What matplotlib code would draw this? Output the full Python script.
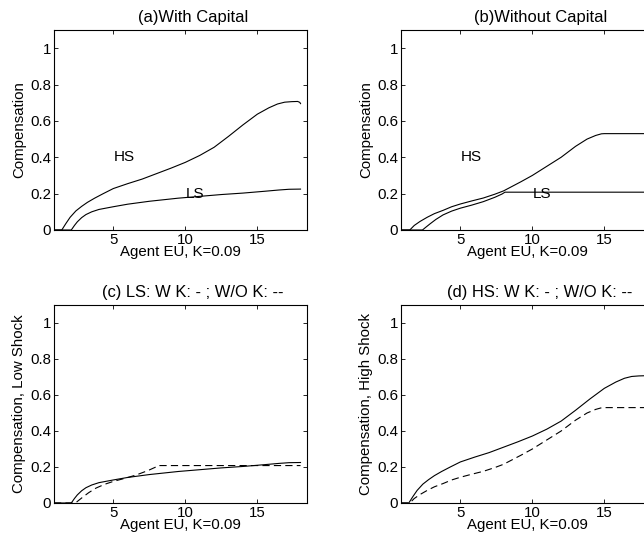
import numpy as np
import matplotlib
matplotlib.use('Agg')
import matplotlib.pyplot as plt

plt.rcParams['font.family'] = ['Liberation Sans', 'DejaVu Sans']

# HS, with capital
hs_k_x = [0.88, 1.42, 1.7, 2.0, 2.4, 2.8, 3.2, 3.7, 4.3, 5.0, 6.0, 7.0, 8.0, 9.0, 10.0,
          11.0, 12.0, 13.0, 14.0, 15.0, 15.8, 16.4, 16.9, 17.4, 17.8, 17.95, 18.0]
hs_k_y = [0, 0, 0.035, 0.07, 0.105, 0.13, 0.152, 0.175, 0.2, 0.228, 0.255, 0.28, 0.31,
          0.34, 0.372, 0.41, 0.455, 0.515, 0.578, 0.637, 0.672, 0.693, 0.703, 0.706,
          0.707, 0.702, 0.695]
# LS, with capital
ls_k_x = [0.88, 2.08, 2.3, 2.5, 2.8, 3.1, 3.5, 4.0, 5.0, 6.0, 7.5, 9.5, 11.0, 12.5,
          14.0, 15.5, 16.5, 17.2, 18.0]
ls_k_y = [0, 0, 0.025, 0.045, 0.068, 0.085, 0.1, 0.113, 0.128, 0.142, 0.158, 0.175,
          0.185, 0.195, 0.203, 0.213, 0.22, 0.224, 0.225]
# HS, without capital
hs_nok_x = [0.88, 1.49, 1.8, 2.2, 2.7, 3.2, 3.8, 4.4, 5.0, 5.8, 6.6, 7.4, 8.0, 8.6,
            9.2, 10.0, 11.0, 12.0, 13.0, 13.8, 14.4, 14.8, 15.0, 18.0]
hs_nok_y = [0, 0, 0.025, 0.047, 0.07, 0.09, 0.108, 0.128, 0.143, 0.16, 0.176, 0.197,
            0.215, 0.24, 0.265, 0.3, 0.35, 0.4, 0.46, 0.5, 0.52, 0.529, 0.53, 0.53]
# LS, without capital
ls_nok_x = [0.88, 2.37, 2.6, 2.9, 3.3, 3.8, 4.4, 5.0, 5.8, 6.6, 7.4, 7.9, 8.1, 18.0]
ls_nok_y = [0, 0, 0.015, 0.034, 0.058, 0.083, 0.104, 0.12, 0.137, 0.156, 0.18, 0.198,
            0.208, 0.208]

titles = ['(a)With Capital', '(b)Without Capital',
          '(c) LS: W K: - ; W/O K: --', '(d) HS: W K: - ; W/O K: --']
ylabels = ['Compensation', 'Compensation',
           'Compensation, Low Shock', 'Compensation, High Shock']
xlabel = 'Agent EU, K=0.09'
yticks = [0, 0.2, 0.4, 0.6, 0.8, 1]
ytick_labels = ['0', '0.2', '0.4', '0.6', '0.8', '1']
xticks = [5, 10, 15]

W, H = 644, 546
fig = plt.figure(figsize=(W / 100, H / 100), dpi=100)

# axes boxes in pixels: left, top, width, height (right column runs off the edge)
boxes = [(54, 30, 253, 200), (401, 30, 253, 200),
         (54, 305, 253, 198), (401, 305, 253, 198)]
axs = []
for (l, t, w, h) in boxes:
    ax = fig.add_axes([l / W, (H - t - h) / H, w / W, h / H])
    axs.append(ax)

lw = 0.8
dash = (0, (6.5, 3.8))

axs[0].plot(hs_k_x, hs_k_y, 'k-', lw=lw)
axs[0].plot(ls_k_x, ls_k_y, 'k-', lw=lw)
axs[1].plot(hs_nok_x, hs_nok_y, 'k-', lw=lw)
axs[1].plot(ls_nok_x, ls_nok_y, 'k-', lw=lw)
axs[2].plot(ls_k_x, ls_k_y, 'k-', lw=lw)
axs[2].plot(ls_nok_x, ls_nok_y, color='k', ls=dash, lw=lw)
axs[3].plot(hs_k_x, hs_k_y, 'k-', lw=lw)
axs[3].plot(hs_nok_x, hs_nok_y, color='k', ls=dash, lw=lw)

for ax in axs[:2]:
    ax.text(5, 0.4, 'HS', fontsize=11, va='center')
    ax.text(10, 0.2, 'LS', fontsize=11, va='center')

for i, ax in enumerate(axs):
    ax.set_xlim(0.88, 18.45)
    ax.set_ylim(0, 1.1)
    ax.set_xticks(xticks)
    ax.set_yticks(yticks)
    ax.set_yticklabels(ytick_labels)
    ax.tick_params(direction='in', top=True, right=True, length=3, width=0.6,
                   labelsize=10.8, pad=2)
    for s in ax.spines.values():
        s.set_linewidth(0.8)
    ax.set_xlabel(xlabel, fontsize=10.8, labelpad=-1)
    ax.set_ylabel(ylabels[i], fontsize=10.8, labelpad=3)
    ax.set_title(titles[i], fontsize=11.9, x=0.55)

fig.savefig('out.png', dpi=100)
